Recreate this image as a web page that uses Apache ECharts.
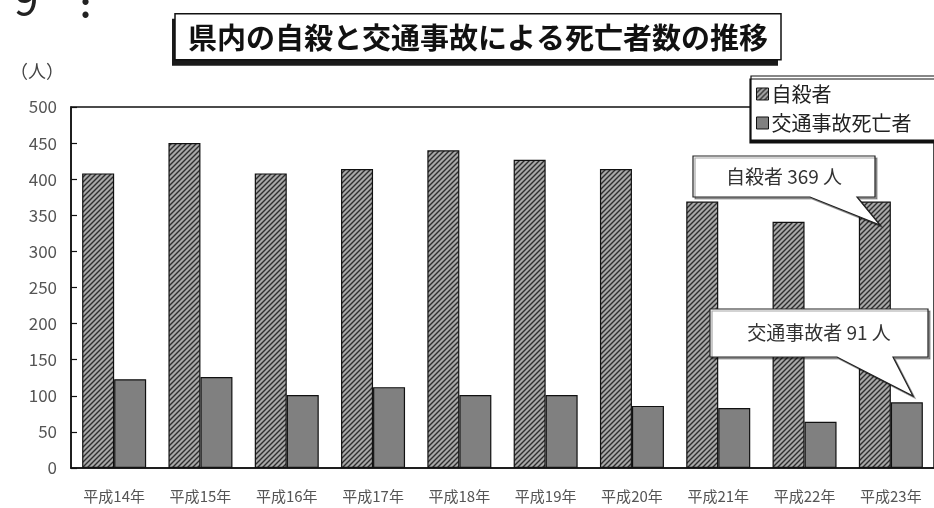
<!DOCTYPE html>
<html>
<head>
<meta charset="utf-8">
<script src="https://cdn.jsdelivr.net/npm/echarts@6/dist/echarts.min.js"></script>
<style>
  html, body { margin: 0; padding: 0; background: #fff; }
  #chart { width: 934px; height: 508px; }
</style>
</head>
<body>
<div id="chart"></div>
<script>
// 年度（カテゴリ）
const years = ['平成14年', '平成15年', '平成16年', '平成17年', '平成18年', '平成19年', '平成20年', '平成21年', '平成22年', '平成23年']
// 自殺者数
const suicides = [408, 450, 408, 414, 440, 427, 414, 369, 341, 369]
// 交通事故死亡者数
const trafficDeaths = [123, 126, 101, 112, 101, 101, 86, 83, 64, 91]
const seriesNames = ['自殺者', '交通事故死亡者']

const FONT = '"Noto Sans CJK JP", "Noto Sans", sans-serif'

// 斜線ハッチのパターン
function makeHatch() {
  const size = 5
  const c = document.createElement('canvas')
  c.width = size
  c.height = size
  const ctx = c.getContext('2d')
  ctx.fillStyle = '#a8a8a8'
  ctx.fillRect(0, 0, size, size)
  ctx.strokeStyle = '#2e2e2e'
  ctx.lineWidth = 1.4
  ctx.beginPath()
  ctx.moveTo(0, size)
  ctx.lineTo(size, 0)
  ctx.moveTo(-1, 1)
  ctx.lineTo(1, -1)
  ctx.moveTo(size - 1, size + 1)
  ctx.lineTo(size + 1, size - 1)
  ctx.stroke()
  return c
}

// 吹き出し
function callout(x0, y0, x1, y1, a, b, tx, ty, text) {
  return {
    type: 'group',
    z: 100,
    children: [{
      type: 'polygon',
      z: 100,
      shape: {
        points: [[x0, y0], [x1, y0], [x1, y1], [b, y1], [tx, ty], [a, y1], [x0, y1]]
      },
      style: {
        fill: '#fff',
        stroke: '#222',
        lineWidth: 1.2,
        shadowColor: 'rgba(0,0,0,0.35)',
        shadowOffsetX: 2,
        shadowOffsetY: 2
      }
    }, {
      type: 'text',
      z: 101,
      x: (x0 + x1) / 2,
      y: (y0 + y1) / 2,
      style: {
        text,
        fill: '#333',
        font: '19px ' + FONT,
        align: 'center',
        verticalAlign: 'middle'
      }
    }]
  }
}

const chart = echarts.init(document.getElementById('chart'))

const option = {
  animation: false,
  backgroundColor: '#fff',
  grid: {
    left: 71,
    top: 107,
    width: 875,
    height: 361,
    show: true,
    borderColor: '#111',
    borderWidth: 1.5,
    backgroundColor: 'transparent'
  },
  legend: {
    data: seriesNames,
    orient: 'vertical',
    left: 751,
    top: 76,
    itemWidth: 12,
    itemHeight: 12,
    itemGap: 9,
    padding: [8, 30, 7, 5],
    backgroundColor: '#fff',
    borderColor: '#111',
    borderWidth: 1.2,
    shadowColor: '#111',
    shadowOffsetY: 3,
    shadowOffsetX: -1,
    shadowBlur: 0,
    icon: 'rect',
    itemStyle: { borderColor: '#111', borderWidth: 1 },
    textStyle: { fontSize: 20, color: '#222', fontFamily: FONT, padding: [0, 0, 0, -2] }
  },
  xAxis: {
    type: 'category',
    data: years,
    axisLine: { lineStyle: { color: '#111', width: 1.5 } },
    axisTick: { inside: true, length: 6, lineStyle: { color: '#111', width: 1.2 } },
    axisLabel: { fontSize: 15, color: '#555', margin: 21, fontFamily: FONT, interval: 0 }
  },
  yAxis: {
    type: 'value',
    min: 0,
    max: 500,
    interval: 50,
    axisLine: { show: true, lineStyle: { color: '#111', width: 1.5 } },
    axisTick: { show: true, inside: true, length: 6, lineStyle: { color: '#111', width: 1.2 } },
    splitLine: { show: false },
    axisLabel: { fontSize: 17, color: '#555', margin: 14, fontFamily: FONT }
  },
  series: [{
    name: seriesNames[0],
    type: 'bar',
    data: suicides,
    barWidth: 32,
    barGap: '0%',
    itemStyle: {
      color: { image: makeHatch(), repeat: 'repeat' },
      borderColor: '#111',
      borderWidth: 1.2
    }
  }, {
    name: seriesNames[1],
    type: 'bar',
    data: trafficDeaths,
    barWidth: 32,
    itemStyle: {
      color: '#808080',
      borderColor: '#111',
      borderWidth: 1.2
    }
  }],
  graphic: [{
    type: 'text',
    left: 14,
    top: -24,
    style: { text: '9', font: '44px ' + FONT, fill: '#222' }
  }, {
    type: 'text',
    left: 80,
    top: -12,
    style: { text: ':', font: 'bold 34px ' + FONT, fill: '#222' }
  }, {
    type: 'text',
    left: 10,
    top: 62,
    style: { text: '（人）', font: '18px ' + FONT, fill: '#444' }
  }, {
    type: 'group',
    left: 172,
    top: 13,
    children: [{
      type: 'rect',
      shape: { x: 0, y: 5, width: 606, height: 47 },
      style: { fill: '#1a1a1a' }
    }, {
      type: 'rect',
      shape: { x: 3, y: 0, width: 606, height: 46 },
      style: { fill: '#fff', stroke: '#111', lineWidth: 1.5 }
    }, {
      type: 'text',
      x: 306,
      y: 24,
      style: {
        text: '県内の自殺と交通事故による死亡者数の推移',
        font: 'bold 29px ' + FONT,
        fill: '#111',
        align: 'center',
        verticalAlign: 'middle'
      }
    }]
  },
  callout(693, 156, 875, 197, 810, 857, 880, 225, '自殺者 369 人'),
  callout(710, 309, 928, 357, 837, 893, 913, 396, '交通事故者 91 人')
  ]
}

chart.setOption(option)
</script>
</body>
</html>
